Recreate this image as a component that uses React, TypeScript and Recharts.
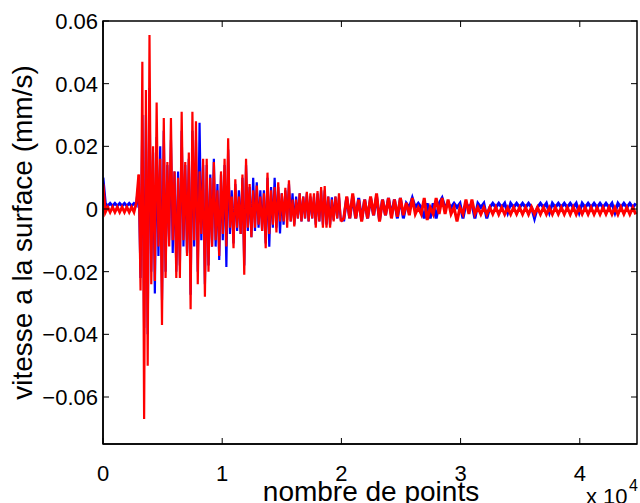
import React from 'react';
import { LineChart, Line, XAxis, YAxis } from 'recharts';

// axis ticks
const xTicks = [0, 10000, 20000, 30000, 40000];
const yTicks = [-0.06, -0.04, -0.02, 0, 0.02, 0.04, 0.06];
const X_MAX = 44800;
const Y_MIN = -0.075;
const Y_MAX = 0.06;

// quiet part before the arrival (last point shared with the burst)
const startIndex = [0, 200, 400, 600, 800, 1000, 1200, 1400, 1600, 1800, 2000, 2200, 2400, 2600, 2800, 3000];
const startBlue = [0.010, 0.0018, 0.0010, 0.0018, 0.0010, 0.0018, 0.0010, 0.0018, 0.0010, 0.0018, 0.0010, 0.0018, 0.0010, 0.0018, 0.0012, 0.008];
const startRed = [0.008, -0.001, 0.0006, -0.001, 0.0006, -0.001, 0.0006, -0.001, 0.0006, -0.001, 0.0006, -0.001, 0.0006, -0.001, 0.002, 0.011];

// main burst
const burstIndex = [
  3000, 3150, 3300, 3450, 3600, 3750, 3900, 4050, 4200, 4350,
  4500, 4650, 4800, 4950, 5100, 5250, 5400, 5550, 5700, 5850,
  6000, 6150, 6300, 6450, 6600, 6750, 6900, 7050, 7200, 7350,
  7500, 7650, 7800, 7950, 8100, 8250, 8400, 8550, 8700, 8850,
  9000, 9150, 9300, 9450, 9600, 9750, 9900, 10050, 10200, 10350,
  10500, 10650, 10800, 10950, 11100, 11250, 11400, 11550, 11700, 11850,
  12000, 12150, 12300, 12450, 12600, 12750, 12900, 13050, 13200, 13350,
  13500, 13650, 13800, 13950, 14100, 14250, 14400, 14550, 14700, 14850,
  15000, 15150, 15300, 15450, 15600, 15750, 15900, 16050, 16200, 16350,
  16500, 16650, 16800, 16950, 17100, 17250, 17400, 17550, 17700, 17850,
  18000, 18150, 18300, 18450, 18600, 18750, 18900, 19050, 19200, 19350,
  19500, 19650, 19800, 19950,
];
const burstBlue = [
  0.008, -0.022, 0.030, -0.038, 0.030, -0.040, 0.0386, -0.020, 0.018, -0.027,
  0.023, -0.015, 0.020, -0.029, 0.025, -0.020, 0.014, -0.010, 0.022, -0.014,
  0.012, -0.020, 0.012, -0.018, 0.025, -0.012, 0.014, -0.014, 0.016, -0.0274,
  0.025, -0.012, 0.022, -0.020, 0.0275, -0.010, 0.014, -0.024, 0.014, -0.018,
  0.011, -0.012, 0.016, -0.012, 0.008, -0.0163, 0.011, -0.010, 0.014, -0.0185,
  0.019, -0.008, 0.006, -0.011, 0.008, -0.007, 0.006, -0.008, 0.010, -0.018,
  0.014, -0.007, 0.007, -0.009, 0.010, -0.007, 0.0085, -0.006, 0.006, -0.007,
  0.006, -0.011, 0.010, -0.012, 0.007, -0.006, 0.010, -0.006, 0.007, -0.0078,
  0.005, -0.005, 0.006, -0.0035, 0.008, -0.004, 0.005, -0.005, 0.004, -0.003,
  0.005, -0.004, 0.004, -0.003, 0.005, -0.004, 0.004, -0.003, 0.004, -0.005,
  0.005, -0.004, 0.006, -0.005, 0.006, -0.005, 0.004, -0.005, 0.0037, -0.0035,
  0.004, -0.003, 0.0037, -0.0035,
];
const burstRed = [
  0.011, -0.026, 0.047, -0.067, 0.038, -0.050, 0.0555, -0.024, 0.020, -0.023,
  0.034, -0.012, 0.016, -0.037, 0.029, -0.022, 0.015, -0.012, 0.029, -0.010,
  0.012, -0.022, 0.010, -0.022, 0.031, -0.010, 0.015, -0.015, 0.018, -0.032,
  0.031, -0.010, 0.028, -0.024, 0.012, -0.008, 0.016, -0.028, 0.016, -0.020,
  0.010, -0.012, 0.015, -0.010, 0.006, -0.015, 0.012, -0.008, 0.016, -0.012,
  0.0226, -0.006, 0.004, -0.0125, 0.0095, -0.006, 0.004, -0.008, 0.011, -0.021,
  0.016, -0.006, 0.008, -0.009, 0.006, -0.006, 0.0075, -0.005, 0.004, -0.007,
  0.005, -0.0125, 0.0116, -0.008, 0.006, -0.005, 0.007, -0.0075, 0.0085, -0.004,
  0.005, -0.004, 0.0068, -0.006, 0.0092, -0.004, 0.003, -0.0056, 0.003, -0.003,
  0.005, -0.004, 0.004, -0.003, 0.0055, -0.004, 0.005, -0.003, 0.005, -0.006,
  0.0057, -0.004, 0.007, -0.006, 0.0073, -0.006, 0.004, -0.006, 0.003, -0.004,
  0.004, -0.003, 0.005, -0.004,
];

// coda, small oscillations (first point shared with the burst)
const tailIndex = [
  19950,
  20200, 20450, 20700, 20950, 21200, 21450, 21700, 21950, 22200, 22450,
  22700, 22950, 23200, 23450, 23700, 23950, 24200, 24450, 24700, 24950,
  25200, 25450, 25700, 25950, 26200, 26450, 26700, 26950, 27200, 27450,
  27700, 27950, 28200, 28450, 28700, 28950, 29200, 29450, 29700, 29950,
  30200, 30450, 30700, 30950, 31200, 31450, 31700, 31950, 32200, 32450,
  32700, 32950, 33200, 33450, 33700, 33950, 34200, 34450, 34700, 34950,
  35200, 35450, 35700, 35950, 36200, 36450, 36700, 36950, 37200, 37450,
  37700, 37950, 38200, 38450, 38700, 38950, 39200, 39450, 39700, 39950,
  40200, 40450, 40700, 40950, 41200, 41450, 41700, 41950, 42200, 42450,
  42700, 42950, 43200, 43450, 43700, 43950, 44200, 44450, 44700,
];
const tailBlue = [
  -0.0035,
  -0.0035, 0.0037, -0.003, 0.004, -0.003, 0.0035, -0.0035, 0.003, -0.003, 0.0035,
  -0.002, 0.004, -0.0035, 0.003, -0.002, 0.0035, -0.002, 0.003, -0.003, 0.0035,
  -0.003, 0.0018, 0.0005, 0.0035, 0.0005, 0.0018, 0.0005, -0.003, 0.0018, -0.003,
  0.0018, -0.003, 0.0018, 0.0035, 0.0005, 0.0018, 0.0005, 0.0018, 0.0005, 0.0018,
  -0.003, 0.0018, 0.0005, 0.0018, -0.003, 0.0018, 0.0005, 0.0018, -0.003, 0.0005,
  0.0018, 0.0005, 0.0018, 0.0005, 0.0018, -0.0012, 0.0018, 0.0005, 0.0018, 0.0005,
  0.0018, 0.0005, 0.0018, 0.0005, -0.003, 0.0005, 0.0018, 0.0005, 0.0018, -0.0012,
  0.0018, 0.0005, 0.0018, 0.0005, 0.0018, 0.0005, 0.0018, 0.0005, 0.0018, -0.0012,
  0.0018, 0.0005, 0.0018, 0.0005, 0.0018, 0.0005, 0.0018, 0.0005, 0.0018, 0.0005,
  0.0018, -0.0012, 0.0018, 0.0005, 0.0018, 0.0005, 0.0018, 0.0005, 0.0018,
];
const tailRed = [
  -0.004,
  -0.003, 0.004, -0.003, 0.005, -0.003, 0.003, -0.004, 0.003, -0.003, 0.004,
  -0.002, 0.005, -0.004, 0.003, -0.002, 0.0035, -0.003, 0.003, -0.0025, 0.0035,
  -0.002, 0.002, -0.002, 0.0035, -0.0016, 0.0005, -0.0016, 0.0035, -0.0035, 0.0005,
  -0.0016, 0.0035, -0.0016, 0.0035, -0.0016, 0.003, -0.0016, 0.0005, -0.004, 0.0005,
  -0.0016, 0.003, -0.0016, 0.003, -0.0016, 0.0005, -0.0017, 0.0005, -0.0017, 0.0005,
  -0.0016, 0.0006, -0.0017, 0.0005, -0.0017, 0.0004, -0.0017, 0.0005, -0.0016, 0.0005,
  -0.0017, 0.0005, -0.0017, 0.0006, -0.0016, 0.0005, -0.0017, 0.0005, -0.0017, 0.0004,
  -0.0017, 0.0005, -0.0016, 0.0005, -0.0017, 0.0005, -0.0017, 0.0006, -0.0017, 0.0005,
  -0.0016, 0.0005, -0.0017, 0.0005, -0.0017, 0.0004, -0.0017, 0.0005, -0.0016, 0.0005,
  -0.0017, 0.0005, -0.0017, 0.0006, -0.0016, 0.0005, -0.0017, 0.0005, -0.0017,
];

const toRows = (idx: number[], vals: number[]) => idx.map((x, i) => ({ x, v: vals[i] }));

const segments = [
  { key: 'b0', color: '#0000ff', width: 2.8, rows: toRows(startIndex, startBlue) },
  { key: 'b1', color: '#0000ff', width: 2.2, rows: toRows(burstIndex, burstBlue) },
  { key: 'b2', color: '#0000ff', width: 3, rows: toRows(tailIndex, tailBlue) },
  { key: 'r0', color: '#ff0000', width: 2.8, rows: toRows(startIndex, startRed) },
  { key: 'r1', color: '#ff0000', width: 2.2, rows: toRows(burstIndex, burstRed) },
  { key: 'r2', color: '#ff0000', width: 3, rows: toRows(tailIndex, tailRed) },
];

// plot box layout
const CHART_W = 640;
const CHART_H = 503;
const MARGIN = { top: 21, right: 3, bottom: 0, left: 0 };
const Y_AXIS_W = 103;
const X_AXIS_H = 59;
const PLOT_X = MARGIN.left + Y_AXIS_W;
const PLOT_Y = MARGIN.top;
const PLOT_W = CHART_W - MARGIN.left - MARGIN.right - Y_AXIS_W;
const PLOT_H = CHART_H - MARGIN.top - MARGIN.bottom - X_AXIS_H;

const FONT = '"Liberation Sans", Arial, Helvetica, sans-serif';
const TICK_LEN = 6;

const fmtY = (v: number) => (v === 0 ? '0' : (v < 0 ? '\u2212' : '') + Math.abs(v).toFixed(2));

const BottomTick = (props: any) => {
  const { x, y, payload } = props;
  return (
    <g>
      <line x1={x} y1={y} x2={x} y2={y - TICK_LEN} stroke="#000" strokeWidth={1} />
      <text x={x} y={y + 37} textAnchor="middle" fontSize={22} fontFamily={FONT} fill="#000">
        {payload.value / 10000}
      </text>
    </g>
  );
};

const LeftTick = (props: any) => {
  const { x, y, payload } = props;
  return (
    <g>
      <line x1={x} y1={y} x2={x + TICK_LEN} y2={y} stroke="#000" strokeWidth={1} />
      <text x={x - 5} y={y + 8} textAnchor="end" fontSize={22} fontFamily={FONT} fill="#000">
        {fmtY(payload.value)}
      </text>
    </g>
  );
};

// box, top/right inward ticks and titles, laid over the chart
const Overlay = () => {
  const sx = (v: number) => PLOT_X + (v / X_MAX) * PLOT_W;
  const sy = (v: number) => PLOT_Y + ((Y_MAX - v) / (Y_MAX - Y_MIN)) * PLOT_H;
  return (
    <svg
      width={CHART_W}
      height={CHART_H}
      style={{ position: 'absolute', left: 0, top: 0, pointerEvents: 'none' }}
    >
      <rect x={PLOT_X} y={PLOT_Y} width={PLOT_W} height={PLOT_H} fill="none" stroke="#000" strokeWidth={1.5} />
      {xTicks.map((t) => (
        <line key={`t${t}`} x1={sx(t)} y1={PLOT_Y} x2={sx(t)} y2={PLOT_Y + TICK_LEN} stroke="#000" strokeWidth={1} />
      ))}
      {yTicks.map((t) => (
        <line
          key={`r${t}`}
          x1={PLOT_X + PLOT_W}
          y1={sy(t)}
          x2={PLOT_X + PLOT_W - TICK_LEN}
          y2={sy(t)}
          stroke="#000"
          strokeWidth={1}
        />
      ))}
      <g fontFamily={FONT} fill="#000">
        <text x={371} y={501} textAnchor="middle" fontSize={28}>nombre de points</text>
        <text transform="translate(32,232.5) rotate(-90)" textAnchor="middle" fontSize={28}>
          vitesse a la surface (mm/s)
        </text>
        <text x={586} y={504} fontSize={22}>x 10</text>
        <text x={629} y={491} fontSize={16}>4</text>
      </g>
    </svg>
  );
};

const axisLine = { stroke: '#000', strokeWidth: 1.5 };

export default function App() {
  return (
    <div style={{ position: 'absolute', left: 0, top: 0, width: CHART_W, height: CHART_H, background: '#fff' }}>
      <LineChart width={CHART_W} height={CHART_H} margin={MARGIN}>
        <XAxis
          dataKey="x"
          type="number"
          domain={[0, X_MAX]}
          ticks={xTicks}
          interval={0}
          allowDataOverflow
          height={X_AXIS_H}
          tickSize={0}
          tickMargin={0}
          tickLine={false}
          axisLine={axisLine}
          tick={<BottomTick />}
        />
        <YAxis
          type="number"
          domain={[Y_MIN, Y_MAX]}
          ticks={yTicks}
          interval={0}
          allowDataOverflow
          width={Y_AXIS_W}
          tickSize={0}
          tickMargin={0}
          tickLine={false}
          axisLine={axisLine}
          tick={<LeftTick />}
        />
        {segments.map((s) => (
          <Line
            key={s.key}
            data={s.rows}
            dataKey="v"
            stroke={s.color}
            strokeWidth={s.width}
            dot={false}
            isAnimationActive={false}
          />
        ))}
      </LineChart>
      <Overlay />
    </div>
  );
}
